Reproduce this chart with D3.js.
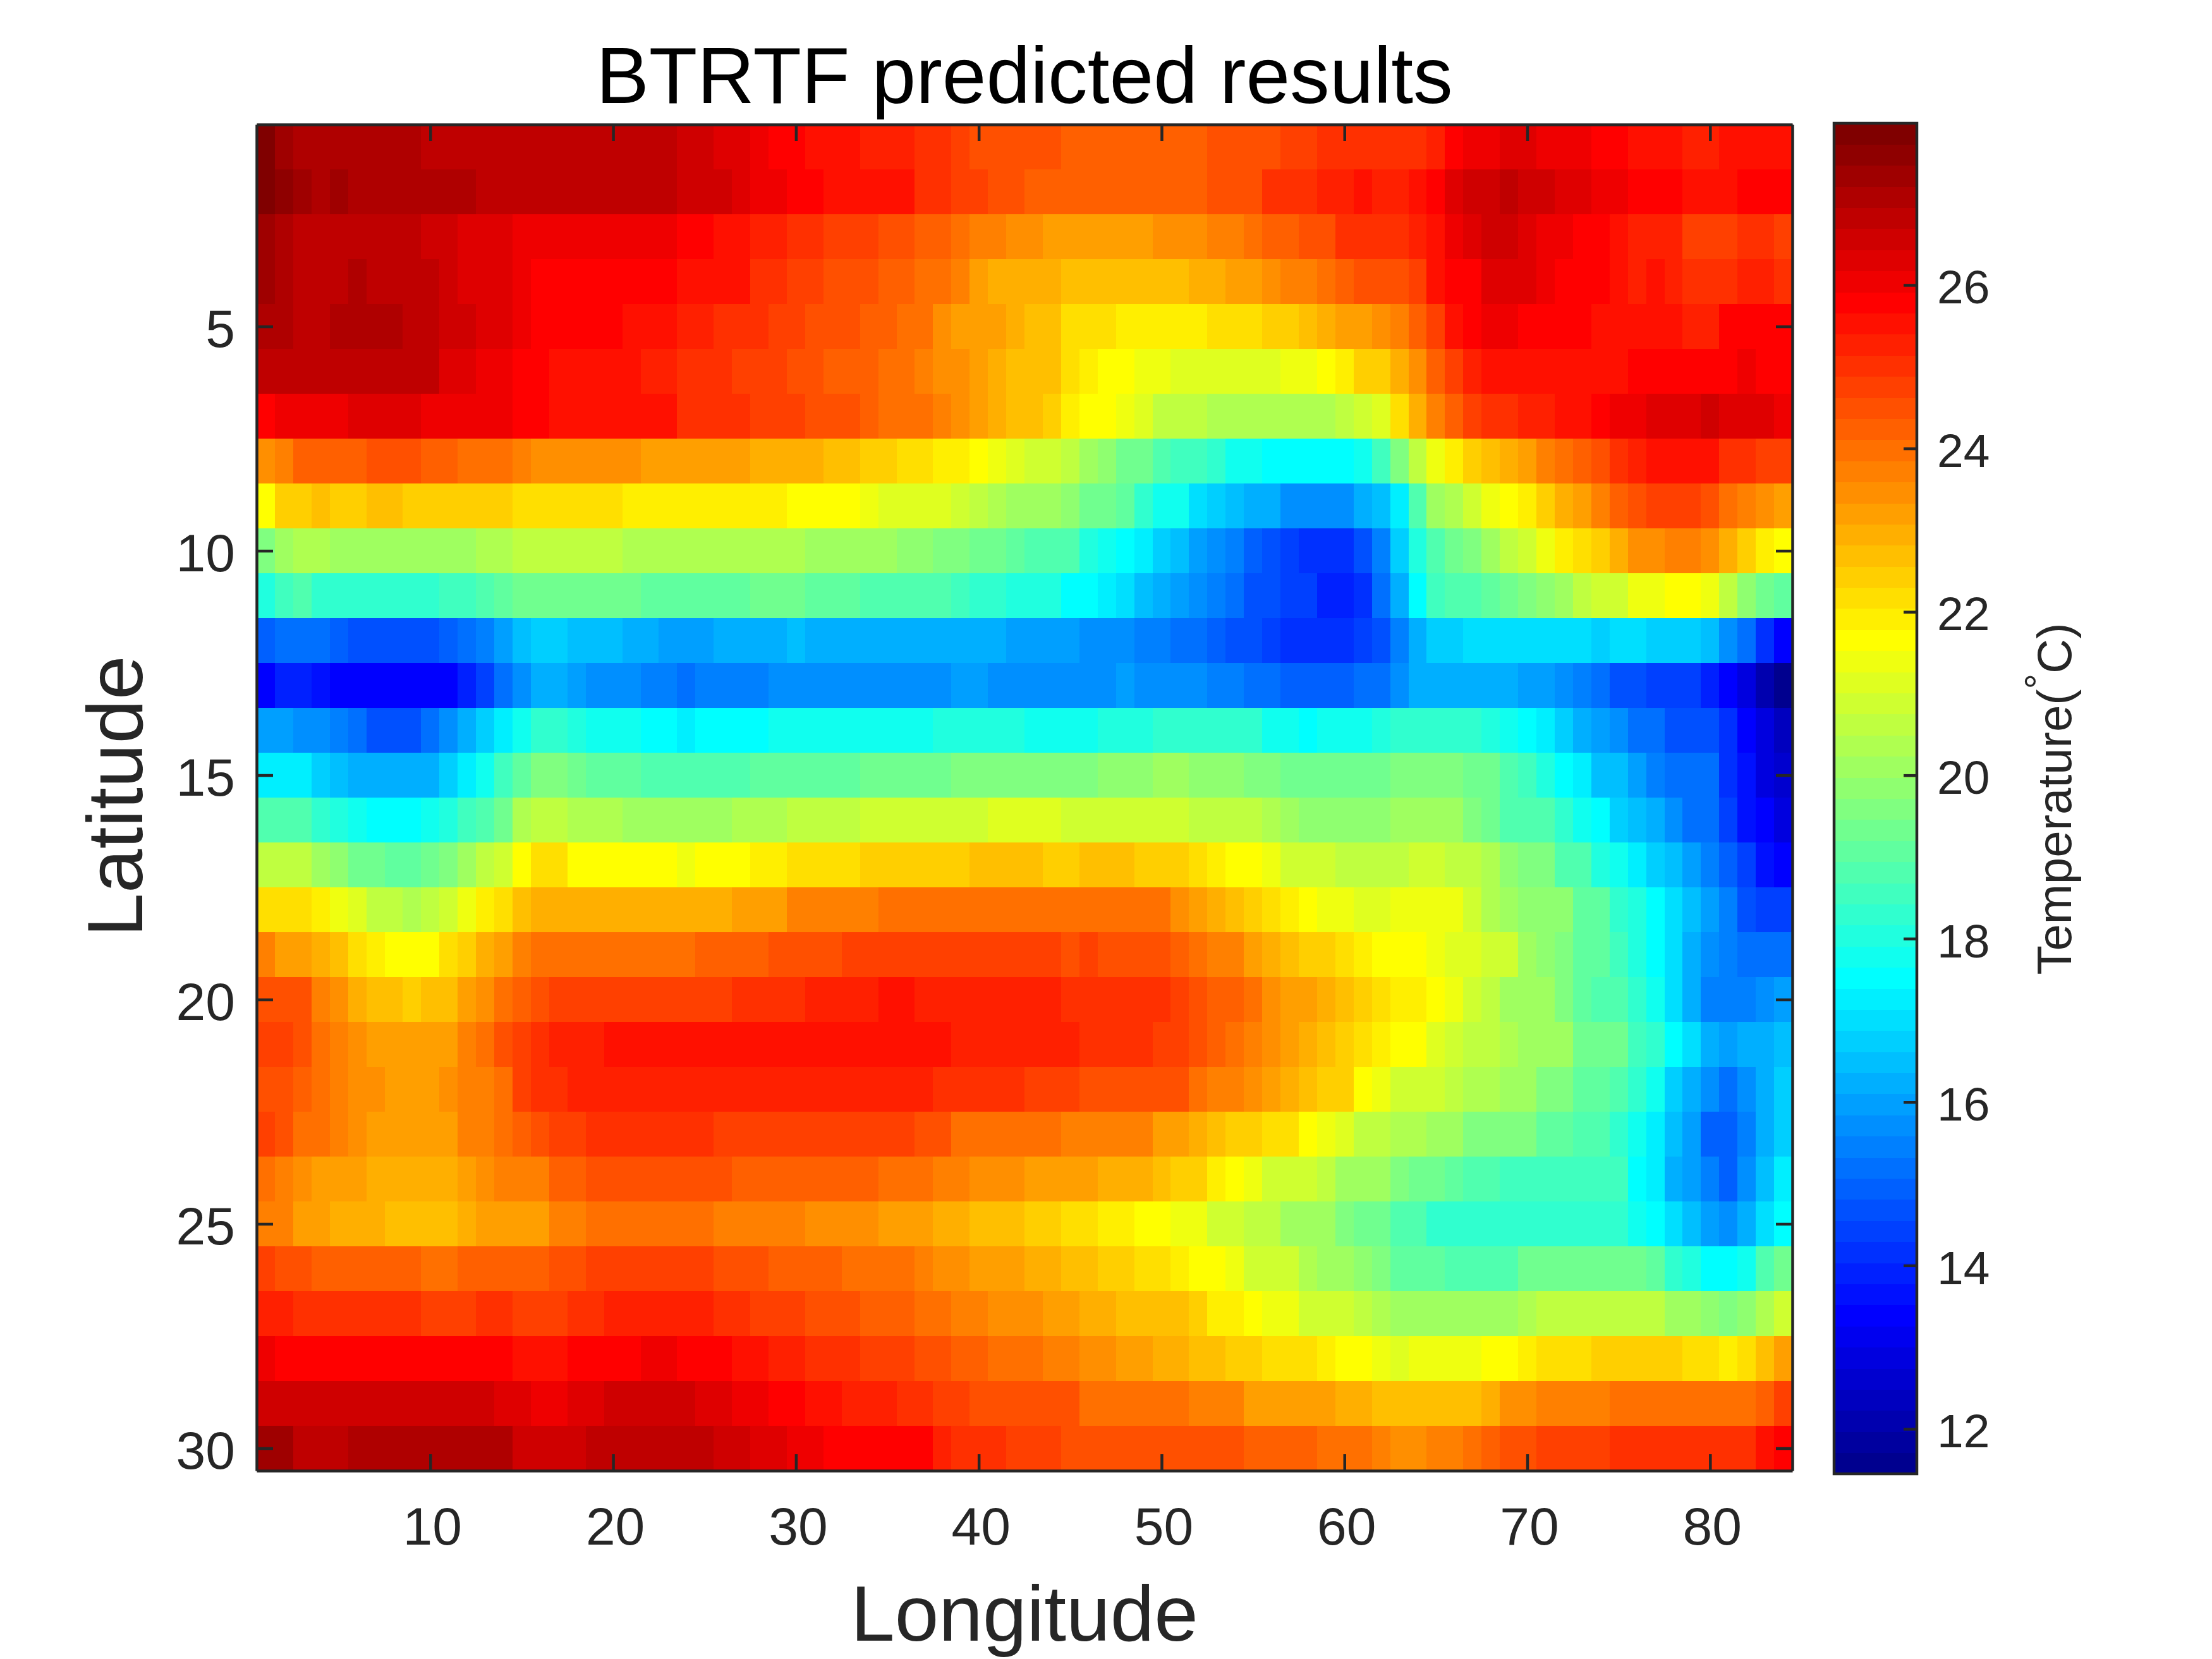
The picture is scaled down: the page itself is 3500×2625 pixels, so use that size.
<!DOCTYPE html>
<html><head><meta charset="utf-8">
<script src="https://cdn.jsdelivr.net/npm/d3@7/dist/d3.min.js"></script>
<style>html,body{margin:0;padding:0;background:#fff}svg{display:block}text{font-family:"Liberation Sans",Arial,sans-serif}</style>
</head><body><svg id="c" width="3500" height="2625"></svg>
<script>
const title="BTRTF predicted results", xTitle="Longitude", yTitle="Latitude";
const xTicks=[10,20,30,40,50,60,70,80], yTicks=[5,10,15,20,25,30], cTicks=[12,14,16,18,20,22,24,26];
const cLimits=[11.45,27.98];
const row01=[27.8,27.3,27.2,27.2,27.2,27.2,27.2,27.2,27.2,26.9,26.9,26.9,26.9,26.9,26.9,26.7,26.7,26.9,26.9,26.9,26.9,26.9,26.9,26.6,26.6,26.3,26.3,26.1,25.8,25.8,25.6,25.6,25.6,25.2,25.2,25.2,25.1,25.1,24.7,24.5,24.5,24.5,24.5,24.5,24.3,24.3,24.3,24.3,24.3,24.3,24.3,24.3,24.5,24.5,24.5,24.5,24.8,24.8,25.1,25.1,25.1,25.1,25.1,25.1,25.3,25.8,26.1,26.1,26.4,26.4,26.1,26.1,26.1,25.8,25.8,25.6,25.6,25.6,25.3,25.3,25.6,25.6,25.6,25.6];
const row02=[27.8,27.6,27.3,27.0,27.4,27.2,27.2,27.2,27.2,27.2,27.2,27.2,26.9,26.9,26.9,26.9,26.9,26.9,26.9,26.9,26.9,26.9,26.9,26.6,26.6,26.6,26.3,26.1,26.1,25.8,25.8,25.6,25.6,25.6,25.6,25.6,25.1,25.1,24.8,24.8,24.4,24.4,24.3,24.3,24.3,24.3,24.3,24.3,24.3,24.3,24.3,24.3,24.5,24.5,24.5,24.9,24.9,25.1,25.3,25.3,25.5,25.3,25.3,25.6,25.8,26.3,26.6,26.6,26.9,26.6,26.6,26.3,26.3,26.0,26.0,25.8,25.8,25.8,25.6,25.6,25.6,25.8,25.8,25.8];
const row03=[27.4,27.0,26.9,26.9,26.9,26.9,26.9,26.9,26.9,26.6,26.6,26.3,26.3,26.3,26.1,26.1,26.1,26.1,26.1,26.1,26.1,26.1,26.1,25.8,25.8,25.6,25.6,25.3,25.3,25.1,25.1,24.8,24.8,24.8,24.5,24.5,24.2,24.2,23.9,23.8,23.8,23.5,23.5,23.3,23.3,23.3,23.3,23.3,23.3,23.5,23.5,23.5,23.7,23.7,24.0,24.2,24.2,24.5,24.6,25.1,25.1,25.1,25.1,25.3,25.6,26.1,26.2,26.6,26.6,26.3,26.1,26.1,25.8,25.8,25.6,25.3,25.3,25.3,24.8,24.8,24.8,25.1,25.1,24.7];
const row04=[27.3,27.1,26.9,26.9,26.9,27.1,26.9,26.9,26.9,26.9,26.6,26.3,26.3,26.3,26.0,25.8,25.8,25.8,25.8,25.8,25.8,25.8,25.8,25.6,25.6,25.4,25.4,25.1,25.1,24.8,24.8,24.5,24.5,24.5,24.3,24.3,24.0,24.0,23.6,23.3,23.0,23.0,22.9,22.9,22.8,22.8,22.8,22.8,22.8,22.8,22.8,23.0,23.0,23.3,23.3,23.5,23.7,23.7,24.0,24.3,24.6,24.6,24.6,24.8,25.5,25.8,25.8,26.2,26.2,26.4,26.1,25.8,25.8,25.8,25.6,25.3,25.6,25.3,25.1,25.1,25.1,25.3,25.3,24.9];
const row05=[27.1,27.1,26.9,26.9,27.2,27.2,27.2,27.2,26.9,26.9,26.6,26.6,26.3,26.3,26.0,25.8,25.8,25.8,25.8,25.8,25.5,25.5,25.5,25.2,25.2,25.0,25.0,25.0,24.8,24.8,24.4,24.4,24.4,24.2,24.2,23.9,23.9,23.5,23.3,23.1,23.1,22.9,22.8,22.6,22.2,22.2,22.2,21.9,21.9,21.9,21.9,21.9,22.2,22.2,22.2,22.4,22.4,22.7,22.9,23.3,23.3,23.5,23.7,24.3,24.8,25.5,25.8,26.0,26.0,25.8,25.8,25.8,25.8,25.6,25.6,25.6,25.6,25.6,25.3,25.3,25.7,25.7,25.7,25.7];
const row06=[26.8,26.8,26.8,26.8,26.8,26.8,26.8,26.8,26.8,26.8,26.4,26.4,26.1,26.1,25.8,25.8,25.6,25.6,25.6,25.6,25.6,25.3,25.3,25.1,25.1,25.1,24.8,24.8,24.8,24.5,24.5,24.3,24.3,24.3,24.1,24.1,23.7,23.5,23.5,23.2,22.9,22.6,22.6,22.6,22.2,21.9,21.7,21.7,21.4,21.4,21.1,21.1,21.1,21.1,21.1,21.1,21.4,21.4,21.7,22.0,22.3,22.3,22.9,23.5,24.3,24.8,25.3,25.6,25.6,25.6,25.6,25.6,25.6,25.6,25.6,25.8,25.8,25.8,25.8,25.8,25.8,26.1,25.8,25.8];
const row07=[25.8,26.1,26.1,26.1,26.1,26.4,26.4,26.4,26.4,26.1,26.1,26.1,26.1,26.1,25.8,25.8,25.6,25.6,25.6,25.6,25.4,25.4,25.4,25.1,25.1,25.1,25.1,24.8,24.8,24.8,24.5,24.5,24.5,24.3,24.0,24.0,24.0,23.7,23.4,23.2,22.9,22.7,22.8,22.4,22.0,21.7,21.7,21.4,21.1,20.7,20.7,20.6,20.4,20.4,20.4,20.4,20.4,20.4,20.4,20.6,20.9,21.2,22.1,23.0,23.7,24.3,24.8,25.1,25.1,25.3,25.3,25.6,25.6,25.8,26.1,26.1,26.3,26.3,26.3,26.6,26.4,26.4,26.4,26.1];
const row08=[23.4,23.7,24.2,24.2,24.2,24.2,24.5,24.5,24.5,24.2,24.2,23.9,23.9,23.9,23.7,23.5,23.5,23.5,23.5,23.5,23.5,23.3,23.3,23.3,23.3,23.3,23.3,23.0,23.0,23.0,23.0,22.7,22.7,22.4,22.4,22.2,22.2,21.9,21.9,21.7,21.4,21.1,20.9,20.9,20.5,20.1,19.8,19.4,19.2,18.9,18.6,18.6,18.3,17.9,17.9,17.5,17.5,17.5,17.5,17.5,17.9,18.6,19.5,20.6,21.4,22.0,22.5,22.7,22.9,23.2,23.7,23.9,24.3,24.5,25.1,25.3,25.6,25.6,25.6,25.6,25.1,25.1,24.8,24.8];
const row09=[21.7,22.3,22.5,22.7,22.5,22.5,22.7,22.7,22.4,22.4,22.4,22.4,22.4,22.4,22.2,22.2,22.2,22.2,22.2,22.2,21.9,21.9,21.9,21.9,21.9,21.9,21.9,21.9,21.9,21.7,21.7,21.7,21.7,21.4,21.1,21.1,21.1,21.1,21.0,20.7,20.4,20.1,20.1,20.1,19.9,19.3,19.3,19.0,18.4,17.9,17.9,17.1,16.8,16.5,16.2,16.2,15.7,15.7,15.7,15.7,16.1,16.5,17.3,18.9,20.0,20.4,20.9,21.3,21.7,21.9,22.4,22.9,23.2,23.6,24.2,24.4,24.7,24.7,24.7,24.5,23.9,23.7,23.5,23.2];
const row10=[19.6,20.1,20.4,20.4,20.2,20.2,20.2,20.2,20.2,20.2,20.2,20.2,20.4,20.4,20.6,20.6,20.6,20.6,20.6,20.6,20.4,20.4,20.4,20.4,20.4,20.4,20.4,20.4,20.4,20.4,20.1,20.1,20.0,20.0,20.0,19.9,19.9,19.6,19.6,19.4,19.4,19.0,18.9,18.8,18.7,18.1,17.8,17.5,17.3,16.7,16.5,15.9,15.7,15.5,15.0,14.8,14.5,14.2,14.2,14.2,14.8,15.5,16.7,18.1,18.9,19.4,19.7,20.0,20.6,20.9,21.4,21.9,22.2,22.5,22.9,23.5,23.5,23.8,23.8,23.5,22.9,22.4,21.9,21.7];
const row11=[18.0,18.5,18.8,18.4,18.4,18.2,18.2,18.2,18.2,18.2,18.5,18.5,18.8,19.0,19.4,19.4,19.4,19.4,19.4,19.4,19.4,19.1,19.1,19.1,19.1,19.1,19.1,19.3,19.3,19.3,19.0,19.0,19.0,18.8,18.8,18.8,18.8,18.8,18.5,18.4,18.4,18.0,18.0,18.0,17.6,17.6,17.2,16.9,16.6,16.3,16.0,15.8,15.5,15.2,14.8,14.6,14.4,14.3,14.0,14.0,14.2,15.2,16.2,17.5,18.6,18.9,18.9,19.1,19.4,19.7,19.9,20.1,20.5,20.8,21.0,21.4,21.4,21.7,21.7,21.5,20.5,19.9,19.3,19.0];
const row12=[14.9,15.1,15.1,15.1,14.9,14.6,14.6,14.6,14.6,14.6,15.0,15.1,15.4,15.9,16.5,16.7,16.7,16.5,16.5,16.5,16.2,16.2,16.0,16.0,16.0,16.2,16.2,16.2,16.2,16.4,16.2,16.2,16.2,16.2,16.2,16.2,16.2,16.2,16.2,16.2,16.2,16.0,16.0,16.0,16.0,15.8,15.8,15.8,15.5,15.5,15.1,15.1,14.9,14.6,14.6,14.3,14.1,14.1,14.1,14.1,14.3,14.6,15.5,16.2,16.8,16.8,17.0,17.0,17.0,17.0,17.0,17.0,17.0,16.8,16.9,16.9,16.8,16.8,16.8,16.5,15.8,15.2,14.2,13.4];
const row13=[13.5,13.8,13.8,13.6,13.5,13.4,13.4,13.4,13.4,13.4,13.5,13.8,14.4,15.1,15.7,16.2,16.2,15.9,15.6,15.6,15.6,15.4,15.4,15.1,15.5,15.5,15.5,15.5,15.8,15.8,15.8,15.8,15.8,15.8,15.8,15.8,15.8,15.8,16.0,16.0,15.8,15.8,15.7,15.7,15.7,15.7,15.7,15.9,15.7,15.7,15.7,15.7,15.5,15.5,15.2,15.2,15.0,15.0,15.0,15.0,15.2,15.2,15.7,16.1,16.3,16.3,16.3,16.3,16.1,16.0,16.0,15.7,15.4,15.1,14.8,14.8,14.3,14.3,14.3,13.9,13.4,12.9,12.1,11.5];
const row14=[15.9,15.9,15.7,15.7,15.4,15.1,14.8,14.8,14.8,15.1,15.7,16.2,16.7,17.3,17.8,18.2,18.2,18.0,17.8,17.8,17.8,17.5,17.5,17.2,17.5,17.5,17.5,17.5,17.7,17.7,17.7,17.7,17.7,17.7,17.7,17.7,17.7,18.0,18.0,18.0,18.0,18.0,17.9,17.9,17.9,17.9,18.1,18.1,18.1,18.3,18.3,18.2,18.2,18.2,18.2,17.9,17.9,17.5,17.9,17.9,17.9,18.1,18.3,18.3,18.3,18.3,18.3,18.0,17.8,17.5,17.3,16.7,16.3,15.9,15.7,15.1,15.1,14.8,14.8,14.8,14.2,13.4,12.8,12.4];
const row15=[17.3,17.3,17.3,16.8,16.5,16.3,16.2,16.2,16.2,16.3,16.7,17.3,17.7,18.5,19.1,19.6,19.6,19.4,19.1,19.1,19.1,18.8,18.8,18.8,18.8,18.8,18.8,19.1,19.1,19.1,19.1,19.1,19.1,19.3,19.3,19.3,19.3,19.3,19.6,19.6,19.6,19.6,19.6,19.6,19.6,19.6,19.8,19.8,19.8,20.0,20.0,19.9,19.9,19.9,19.7,19.7,19.4,19.4,19.4,19.4,19.4,19.4,19.6,19.6,19.6,19.6,19.3,19.3,18.7,18.5,18.0,17.5,17.3,16.6,16.6,15.9,15.5,15.1,15.1,15.1,14.2,13.7,12.9,12.6];
const row16=[18.9,18.8,18.8,18.3,18.0,17.9,17.5,17.5,17.5,17.7,18.1,18.5,18.9,19.4,20.4,20.5,20.5,20.4,20.4,20.4,20.1,20.1,20.1,20.1,20.1,20.1,20.4,20.4,20.4,20.6,20.6,20.6,20.6,20.9,20.9,20.9,20.9,20.9,20.9,20.9,21.1,21.1,21.1,21.1,20.8,21.0,21.0,21.0,21.0,21.0,21.0,20.7,20.7,20.5,20.5,20.3,20.0,19.9,19.9,19.9,19.9,19.9,20.0,20.0,20.0,20.0,19.7,19.3,18.9,18.7,18.7,18.4,17.7,17.5,16.8,16.5,16.1,15.8,15.1,15.1,14.3,13.7,13.3,12.9];
const row17=[20.6,20.6,20.6,20.2,19.9,19.4,19.4,19.0,19.0,19.2,19.5,20.1,20.5,21.0,21.7,22.1,22.1,21.7,21.7,21.7,21.7,21.7,21.7,21.4,21.7,21.7,21.7,21.9,21.9,22.2,22.2,22.2,22.2,22.5,22.5,22.5,22.5,22.5,22.5,22.7,22.7,22.7,22.7,22.5,22.5,22.7,22.7,22.7,22.5,22.5,22.5,22.2,21.9,21.7,21.7,21.3,20.9,20.9,20.9,20.5,20.5,20.5,20.6,20.8,20.8,20.5,20.5,20.3,19.9,19.5,19.5,18.9,18.7,18.0,17.9,17.3,16.8,16.5,16.0,15.5,15.0,14.4,13.7,13.4];
const row18=[22.2,22.2,22.2,21.9,21.4,21.1,20.6,20.6,20.3,20.6,21.0,21.4,21.9,22.2,22.7,23.0,23.0,23.0,23.0,23.0,23.0,23.0,23.0,23.0,23.0,23.0,23.3,23.3,23.3,23.6,23.6,23.8,23.8,23.8,24.1,24.1,24.1,24.1,24.1,24.1,24.1,24.1,24.1,24.1,24.1,24.1,24.1,23.9,23.9,23.9,23.5,23.2,22.9,22.7,22.4,22.2,22.0,21.7,21.4,21.4,21.1,21.1,21.3,21.5,21.3,21.3,21.0,20.4,20.1,19.9,19.9,19.9,19.1,19.1,18.4,18.1,17.5,17.0,16.5,15.9,15.4,14.8,14.5,14.5];
const row19=[23.7,23.3,23.3,22.9,22.7,22.2,22.0,21.7,21.7,21.7,22.1,22.5,22.9,23.2,23.7,24.0,24.0,24.0,24.0,24.0,24.0,24.0,24.0,24.0,24.3,24.3,24.3,24.3,24.5,24.5,24.5,24.5,24.8,24.8,24.8,24.8,24.8,24.8,24.8,24.8,24.8,24.8,24.8,24.8,24.4,24.8,24.6,24.6,24.6,24.6,24.3,24.0,23.7,23.7,23.3,23.0,22.8,22.4,22.4,22.2,21.9,21.7,21.7,21.7,21.5,21.1,21.1,20.8,20.8,20.2,19.9,19.7,19.0,19.0,18.6,18.1,17.5,17.0,16.3,15.8,15.5,15.1,15.1,15.3];
const row20=[24.6,24.4,24.4,23.7,23.5,23.0,22.7,22.7,22.5,22.7,22.7,23.3,23.5,24.0,24.3,24.5,24.8,24.8,24.8,24.8,24.8,24.8,24.8,24.8,24.8,24.8,25.1,25.1,25.1,25.1,25.3,25.3,25.3,25.3,25.5,25.5,25.3,25.3,25.3,25.3,25.3,25.3,25.3,25.3,25.1,25.1,25.1,25.1,25.1,25.1,24.8,24.6,24.3,24.3,23.9,23.5,23.3,23.3,23.0,22.8,22.5,22.2,22.0,22.0,21.7,21.4,20.9,20.6,20.2,20.2,20.2,19.6,19.1,18.8,18.8,18.4,17.9,17.0,16.3,15.4,15.4,15.4,15.7,15.9];
const row21=[24.7,24.7,24.4,24.1,23.7,23.5,23.3,23.3,23.3,23.3,23.3,23.7,24.0,24.5,24.8,25.1,25.3,25.3,25.3,25.6,25.6,25.6,25.6,25.6,25.6,25.6,25.6,25.6,25.6,25.6,25.6,25.6,25.6,25.6,25.6,25.6,25.6,25.6,25.3,25.3,25.3,25.3,25.3,25.3,25.3,25.1,25.1,25.1,25.1,24.8,24.8,24.6,24.3,24.0,23.7,23.5,23.2,22.9,22.7,22.5,22.2,21.9,21.7,21.7,21.1,20.9,20.6,20.6,20.4,20.1,20.1,20.1,19.3,19.3,19.3,18.5,18.3,17.5,16.9,16.3,15.9,16.2,16.3,16.6];
const row22=[24.4,24.4,24.2,23.9,23.7,23.5,23.5,23.3,23.3,23.3,23.5,23.8,23.8,24.1,24.8,25.0,25.0,25.3,25.3,25.3,25.3,25.3,25.3,25.3,25.3,25.3,25.3,25.3,25.3,25.3,25.3,25.3,25.3,25.3,25.3,25.3,25.3,25.0,25.0,25.0,25.0,25.0,24.8,24.8,24.8,24.6,24.6,24.6,24.6,24.4,24.4,24.0,23.7,23.7,23.5,23.2,22.9,22.7,22.5,22.5,21.7,21.4,21.0,21.0,20.9,20.7,20.4,20.4,20.0,20.0,19.6,19.6,19.1,19.1,18.7,18.3,17.7,16.8,16.2,15.7,15.1,15.6,16.2,16.8];
const row23=[24.7,24.4,24.1,23.9,23.7,23.5,23.3,23.3,23.3,23.3,23.3,23.6,23.8,24.0,24.3,24.5,24.8,24.8,25.0,25.0,25.0,25.0,25.0,25.0,25.0,24.7,24.7,24.7,24.7,24.7,24.7,24.7,24.7,24.7,24.7,24.7,24.4,24.4,24.1,24.1,24.1,24.1,24.1,24.1,23.8,23.8,23.8,23.6,23.6,23.3,23.3,23.0,22.7,22.5,22.4,22.2,22.2,21.7,21.3,21.1,20.7,20.7,20.3,20.3,20.1,20.1,19.7,19.6,19.6,19.6,19.1,19.1,18.7,18.7,18.2,17.9,17.3,16.5,15.9,14.9,14.9,15.4,16.2,16.8];
const row24=[24.1,23.7,23.5,23.3,23.1,23.1,23.0,23.0,23.0,23.0,23.0,23.2,23.4,23.7,23.7,23.7,24.2,24.2,24.4,24.4,24.4,24.4,24.4,24.4,24.4,24.4,24.2,24.2,24.2,24.2,24.2,24.2,24.2,24.2,23.9,23.9,23.9,23.6,23.6,23.4,23.4,23.4,23.3,23.3,23.1,23.1,22.9,22.9,22.9,22.7,22.4,22.4,21.9,21.7,21.4,21.0,21.0,20.9,20.5,20.2,20.1,20.1,19.7,19.4,19.4,19.1,18.9,18.9,18.5,18.5,18.5,18.5,18.5,18.5,18.5,17.5,17.3,16.2,15.9,15.5,15.0,15.8,16.5,17.2];
const row25=[23.6,23.6,23.3,23.1,23.0,23.0,23.0,22.7,22.7,22.7,22.7,22.9,23.1,23.1,23.1,23.3,23.6,23.6,23.9,23.9,23.9,23.9,23.9,23.9,23.9,23.7,23.7,23.7,23.7,23.7,23.4,23.4,23.4,23.4,23.2,23.2,23.2,22.9,22.9,22.7,22.7,22.7,22.5,22.5,22.2,22.2,21.9,21.9,21.7,21.7,21.4,21.4,21.0,20.9,20.6,20.6,20.2,20.1,20.1,19.7,19.3,19.3,18.9,18.9,18.3,18.3,18.3,18.3,18.3,18.3,18.3,18.3,18.3,18.3,18.3,17.9,17.5,17.0,16.5,16.0,15.8,16.2,16.9,17.5];
const row26=[24.7,24.4,24.4,24.2,24.2,24.2,24.2,24.2,24.2,23.9,23.9,24.2,24.2,24.2,24.2,24.2,24.4,24.4,24.7,24.7,24.7,24.7,24.7,24.7,24.7,24.5,24.5,24.5,24.2,24.2,24.2,24.2,23.9,23.9,23.9,23.9,23.7,23.5,23.5,23.3,23.3,23.3,23.0,23.0,22.7,22.7,22.5,22.5,22.2,22.2,21.9,21.7,21.7,21.3,21.0,20.8,20.8,20.4,20.2,20.2,19.9,19.6,19.0,19.0,19.0,18.9,18.9,18.9,18.9,19.3,19.3,19.3,19.3,19.3,19.3,19.3,19.0,18.3,18.1,17.5,17.5,17.7,18.8,19.2];
const row27=[25.3,25.3,25.0,25.0,25.0,25.0,25.0,25.0,25.0,24.7,24.7,24.7,25.0,25.0,24.7,24.7,24.7,25.1,25.1,25.3,25.3,25.3,25.3,25.3,25.3,25.1,25.1,24.7,24.7,24.7,24.4,24.4,24.4,24.2,24.2,24.2,23.9,23.9,23.7,23.7,23.5,23.5,23.5,23.2,23.2,23.0,23.0,22.8,22.8,22.6,22.6,22.3,21.9,21.9,21.7,21.4,21.4,21.0,21.0,20.8,20.6,20.4,20.2,20.2,20.2,20.2,20.2,20.2,20.2,20.4,20.5,20.5,20.5,20.5,20.5,20.5,20.5,20.2,20.0,19.8,19.6,19.9,20.4,20.8];
const row28=[26.1,25.8,25.8,25.8,25.8,25.8,25.8,25.8,25.8,25.8,25.8,25.8,25.8,25.8,25.6,25.6,25.6,25.8,25.8,25.8,25.8,26.1,26.1,25.8,25.8,25.8,25.6,25.6,25.3,25.3,24.9,24.9,24.9,24.7,24.7,24.7,24.4,24.4,24.2,24.2,24.0,24.0,24.0,23.8,23.8,23.5,23.5,23.3,23.3,23.0,23.0,22.7,22.7,22.4,22.4,22.2,22.2,22.2,22.0,21.7,21.7,21.4,21.1,21.4,21.4,21.4,21.4,21.7,21.7,21.9,22.2,22.2,22.2,22.4,22.4,22.4,22.4,22.4,22.2,22.2,21.9,22.2,22.7,23.3];
const row29=[26.6,26.6,26.6,26.6,26.6,26.6,26.6,26.6,26.6,26.6,26.6,26.6,26.6,26.3,26.3,26.1,26.1,26.3,26.3,26.6,26.6,26.6,26.6,26.6,26.4,26.4,26.1,26.1,25.8,25.8,25.6,25.6,25.3,25.3,25.3,25.1,25.1,24.8,24.8,24.4,24.4,24.4,24.4,24.4,24.4,24.1,24.1,24.1,23.9,23.9,23.9,23.7,23.7,23.7,23.3,23.3,23.3,23.3,23.1,22.9,22.9,22.7,22.7,22.7,22.7,22.7,22.7,23.0,23.5,23.5,23.7,23.8,23.8,23.8,24.1,24.1,24.1,24.1,24.1,24.1,24.1,24.1,24.3,24.8];
const row30=[27.3,27.3,26.9,26.9,26.9,27.2,27.2,27.2,27.2,27.2,27.2,27.0,27.0,27.0,26.6,26.6,26.6,26.6,26.9,26.9,26.9,26.9,26.9,26.9,26.9,26.6,26.6,26.4,26.4,26.1,26.1,25.7,25.7,25.7,25.7,25.7,25.7,25.3,25.1,25.1,25.1,24.8,24.8,24.8,24.5,24.5,24.5,24.5,24.4,24.4,24.4,24.4,24.4,24.4,24.3,24.3,24.3,24.3,24.0,24.0,24.0,23.8,23.5,23.5,23.7,23.7,24.0,24.2,24.5,24.5,24.8,24.8,24.8,24.8,25.1,25.1,25.1,25.1,25.1,25.1,25.1,25.1,25.5,25.7];
const grid=[row01,row02,row03,row04,row05,row06,row07,row08,row09,row10,row11,row12,row13,row14,row15,row16,row17,row18,row19,row20,row21,row22,row23,row24,row25,row26,row27,row28,row29,row30];

const ink="#262626", sw=4.5;
const px={l:406,r:2836,t:197,b:2327};
const cb={l:2902,r:3033,t:195,b:2332};
const clamp=v=>Math.max(0,Math.min(1,v));
const jet=d3.range(1,65).map(i=>{const t=i/64;return d3.rgb(
  255*clamp(Math.min(4*t-1.5,-4*t+4.5)),
  255*clamp(Math.min(4*t-0.5,-4*t+3.5)),
  255*clamp(Math.min(4*t+0.5,-4*t+2.5))).formatHex();});
const color=d3.scaleQuantize().domain(cLimits).range(jet);
const x=d3.scaleLinear().domain([0.5,84.5]).range([px.l,px.r]);
const y=d3.scaleLinear().domain([0.5,30.5]).range([px.t,px.b]);
const cy=d3.scaleLinear().domain(cLimits).range([cb.b,cb.t]);
const svg=d3.select("#c");
svg.append("rect").attr("width",3500).attr("height",2625).attr("fill","#fff");

const cells=grid.flatMap((r,i)=>r.map((v,j)=>({lat:i+1,lon:j+1,v})));
svg.append("g").attr("shape-rendering","crispEdges").selectAll("rect").data(cells).join("rect")
  .attr("x",d=>x(d.lon-.5)).attr("y",d=>y(d.lat-.5))
  .attr("width",d=>x(d.lon+.5)-x(d.lon-.5)+.5).attr("height",d=>y(d.lat+.5)-y(d.lat-.5)+.5)
  .attr("fill",d=>color(d.v));

function styleAxis(g,fs,dy,dx){
  g.selectAll("path,line").attr("stroke",ink).attr("stroke-width",sw);
  const t=g.selectAll("text").attr("fill",ink).attr("font-size",fs).attr("font-family",'"Liberation Sans",Arial,sans-serif');
  if(dy) t.attr("dy",dy);
  if(dx) t.attr("dx",dx);
}
const tl=-26;
svg.append("g").attr("transform",`translate(0,${px.b})`)
  .call(d3.axisBottom(x).tickValues(xTicks).tickSizeInner(tl).tickSizeOuter(0).tickPadding(57)).call(styleAxis,84,null,3);
svg.append("g").attr("transform",`translate(0,${px.t})`)
  .call(d3.axisTop(x).tickValues(xTicks).tickSizeInner(tl).tickSizeOuter(0).tickFormat("")).call(styleAxis,84);
svg.append("g").attr("transform",`translate(${px.l},0)`)
  .call(d3.axisLeft(y).tickValues(yTicks).tickSizeInner(tl).tickSizeOuter(0).tickPadding(34)).call(styleAxis,84,"0.385em");
svg.append("g").attr("transform",`translate(${px.r},0)`)
  .call(d3.axisRight(y).tickValues(yTicks).tickSizeInner(tl).tickSizeOuter(0).tickFormat("")).call(styleAxis,84);

svg.append("g").attr("shape-rendering","crispEdges").selectAll("rect").data(jet).join("rect")
  .attr("x",cb.l).attr("width",cb.r-cb.l)
  .attr("y",d=>cy(color.invertExtent(d)[1])).attr("height",d=>cy(color.invertExtent(d)[0])-cy(color.invertExtent(d)[1])+.5)
  .attr("fill",d=>d);
svg.append("rect").attr("x",cb.l).attr("y",cb.t).attr("width",cb.r-cb.l).attr("height",cb.b-cb.t)
  .attr("fill","none").attr("stroke",ink).attr("stroke-width",sw);
svg.append("g").attr("transform",`translate(${cb.r},0)`)
  .call(d3.axisRight(cy).tickValues(cTicks).tickSizeInner(-21).tickSizeOuter(0).tickPadding(32)).call(styleAxis,75,"0.385em")
  .call(g=>g.select(".domain").remove());

svg.append("text").attr("x",1621).attr("y",163).attr("text-anchor","middle").attr("font-size",125.3).attr("fill","#000").text(title);
svg.append("text").attr("x",1621).attr("y",2596).attr("text-anchor","middle").attr("font-size",125.2).attr("fill",ink).text(xTitle);
svg.append("text").attr("transform","translate(225,1260) rotate(-90)").attr("text-anchor","middle").attr("font-size",125).attr("fill",ink).text(yTitle);
const cl=svg.append("text").attr("transform","translate(3277,1264) rotate(-90)").attr("text-anchor","middle").attr("font-size",76).attr("fill",ink);
cl.append("tspan").text("Temperature(");
cl.append("tspan").attr("dy",-30).attr("font-size",62).text("\u00B0");
cl.append("tspan").attr("dy",30).text("C)");
</script></body></html>
